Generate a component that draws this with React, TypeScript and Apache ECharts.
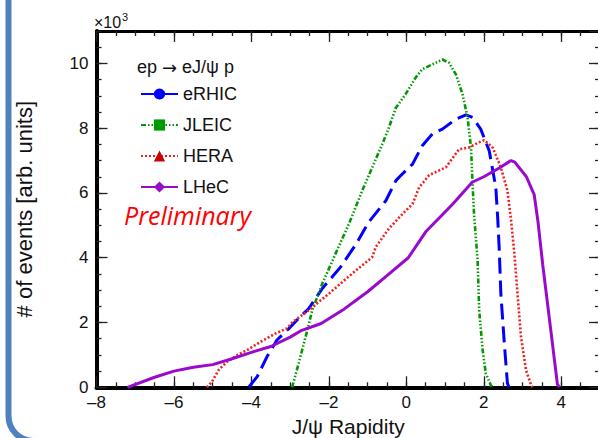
import React, { useEffect, useRef } from 'react';
import * as echarts from 'echarts';

// ---- data (y values in units of 10^3 events) ----
const seriesNames = ['eRHIC', 'JLEIC', 'HERA', 'LHeC'];

const erhicX = [-4.07, -3.85, -3.6, -3.34, -3.03, -2.73, -2.52, -2.17, -1.7, -1.31, -0.97, -0.53, -0.27, -0.15, 0.16, 0.41, 0.67, 0.93, 1.28, 1.54, 1.71, 1.92, 2.14, 2.31, 2.36, 2.4, 2.44, 2.53, 2.61, 2.65];
const erhicY = [0, 0.33, 0.94, 1.46, 1.82, 2.19, 2.43, 3.05, 3.71, 4.4, 5.1, 5.76, 6.38, 6.53, 6.89, 7.46, 7.82, 7.97, 8.28, 8.41, 8.33, 7.97, 7.3, 6.17, 5.2, 4.22, 2.89, 1.35, 0.12, 0];

const jleicX = [-2.95, -2.78, -2.6, -2.43, -2.17, -1.83, -1.48, -1.14, -0.88, -0.62, -0.45, -0.27, -0.02, 0.24, 0.41, 0.76, 0.93, 1.1, 1.28, 1.45, 1.58, 1.67, 1.71, 1.75, 1.84, 1.88, 1.97, 2.05, 2.18, 2.22];
const jleicY = [0, 0.74, 1.56, 2.38, 3.2, 4.12, 5.05, 6.07, 6.79, 7.51, 8.02, 8.63, 9.05, 9.56, 9.82, 10.02, 10.12, 10.02, 9.66, 9.05, 8.33, 7.4, 6.28, 5.3, 3.92, 2.38, 1.15, 0.43, 0.07, 0];

const heraX = [-5.15, -5.02, -4.85, -4.63, -4.37, -4.11, -3.77, -3.38, -3.08, -2.95, -2.52, -2.0, -1.4, -0.88, -0.79, -0.45, -0.1, 0.16, 0.33, 0.59, 1.02, 1.36, 1.62, 1.85, 2.01, 2.23, 2.44, 2.61, 2.7, 2.79, 2.87, 2.96, 3.09, 3.22, 3.26];
const heraY = [0, 0.17, 0.53, 0.79, 0.99, 1.15, 1.4, 1.66, 1.82, 2.0, 2.38, 2.89, 3.51, 4.02, 4.33, 4.9, 5.35, 5.66, 6.17, 6.55, 6.79, 7.35, 7.4, 7.55, 7.63, 7.4, 6.79, 6.07, 5.2, 4.12, 2.89, 1.56, 0.53, 0.07, 0];

const lhecX = [-7.2, -6.5, -6.0, -5.5, -5.0, -4.5, -4.0, -3.5, -3.0, -2.7, -2.2, -1.6, -1.0, -0.5, 0.05, 0.5, 1.2, 1.7, 2.0, 2.4, 2.7, 2.8, 3.1, 3.3, 3.4, 3.52, 3.7, 3.9, 3.95];
const lhecY = [0, 0.31, 0.5, 0.62, 0.7, 0.88, 1.08, 1.26, 1.55, 1.76, 1.97, 2.42, 2.95, 3.45, 4.0, 4.8, 5.66, 6.33, 6.5, 6.77, 7.0, 6.95, 6.5, 5.95, 5.1, 3.8, 2.05, 0.1, 0];

const xMin = -8;
const xMax = 5;
const yMin = 0;
const yMax = 11;

const FONT = '"Liberation Sans", Arial, Helvetica, sans-serif';

const pairs = (xs: number[], ys: number[]) => xs.map((x, i) => [x, ys[i]]);

function buildOption() {
  const tickStyle = { color: '#222', width: 1.3 };
  const minorX = (position: string) => ({
    type: 'value', position, min: xMin, max: xMax, interval: 0.5,
    axisLine: { show: false, onZero: false },
    axisTick: { show: true, inside: true, length: 5, lineStyle: tickStyle },
    axisLabel: { show: false }, splitLine: { show: false },
  });
  const minorY = (position: string) => ({
    type: 'value', position, min: yMin, max: yMax, interval: 0.5,
    axisLine: { show: false, onZero: false },
    axisTick: { show: true, inside: true, length: 5, lineStyle: tickStyle },
    axisLabel: { show: false }, splitLine: { show: false },
  });

  const lineSeries = (name: string, xs: number[], ys: number[], color: string, symColor: string, symbol: string, width: number, dash: any) => ({
    type: 'line', name, data: pairs(xs, ys), xAxisIndex: 0, yAxisIndex: 0,
    showSymbol: false, symbol, smooth: false,
    lineStyle: { color, width, type: dash, cap: 'butt' },
    itemStyle: { color: symColor },
    emphasis: { disabled: true },
  });

  return {
    animation: false,
    backgroundColor: '#ffffff',
    grid: { left: 96.5, right: 10, top: 31, bottom: 50.7, containLabel: false, outerBoundsMode: 'none' },
    xAxis: [
      {
        type: 'value', position: 'bottom', min: xMin, max: xMax, interval: 2,
        axisLine: { show: true, onZero: false, lineStyle: { color: '#000', width: 4 } },
        axisTick: { show: true, inside: true, length: 11, lineStyle: tickStyle },
        axisLabel: {
          fontSize: 17, color: '#111', fontFamily: FONT, margin: 7, showMaxLabel: false,
          formatter: (v: number) => String(v).replace('-', '\u2013'),
        },
        splitLine: { show: false },
        name: 'J/\u03c8 Rapidity', nameLocation: 'middle', nameGap: 26,
        nameTextStyle: { fontSize: 21, color: '#111', fontFamily: FONT },
      },
      minorX('bottom'),
      {
        type: 'value', position: 'top', min: xMin, max: xMax, interval: 2,
        axisLine: { show: true, onZero: false, lineStyle: { color: '#000', width: 3 } },
        axisTick: { show: true, inside: true, length: 11, lineStyle: tickStyle },
        axisLabel: { show: false }, splitLine: { show: false },
      },
      minorX('top'),
    ],
    yAxis: [
      {
        type: 'value', position: 'left', min: yMin, max: yMax, interval: 2,
        axisLine: { show: true, onZero: false, lineStyle: { color: '#000', width: 4 } },
        axisTick: { show: true, inside: true, length: 11, lineStyle: tickStyle },
        axisLabel: { fontSize: 17, color: '#111', fontFamily: FONT, margin: 8, showMaxLabel: false },
        splitLine: { show: false },
        name: '# of events [arb. units]', nameLocation: 'middle', nameGap: 61,
        nameTextStyle: { fontSize: 22, color: '#111', fontFamily: FONT },
      },
      minorY('left'),
      {
        type: 'value', position: 'right', min: yMin, max: yMax, interval: 2,
        axisLine: { show: false, onZero: false },
        axisTick: { show: true, inside: true, length: 11, lineStyle: tickStyle },
        axisLabel: { show: false }, splitLine: { show: false },
      },
      minorY('right'),
    ],
    legend: {
      orient: 'vertical', left: 135, top: 80,
      itemWidth: 37, itemHeight: 14, itemGap: 13,
      textStyle: { fontSize: 18, color: '#111', fontFamily: FONT },
      data: seriesNames,
      selectedMode: false,
    },
    series: [
      lineSeries(seriesNames[0], erhicX, erhicY, '#0000ff', '#0000ff', 'circle', 3, [16, 7]),
      lineSeries(seriesNames[1], jleicX, jleicY, '#009a00', '#009a00', 'rect', 2.6, [5, 2, 1.5, 2, 1.5, 2, 1.5, 2]),
      lineSeries(seriesNames[2], heraX, heraY, '#f02020', '#c80000', 'triangle', 2.6, [2, 2]),
      lineSeries(seriesNames[3], lhecX, lhecY, '#9a0acd', '#9a0acd', 'diamond', 3, 'solid'),
    ],
    graphic: [
      {
        type: 'rect', silent: true,
        shape: { x: 8.5, y: -100, width: 1000, height: 541, r: 25 },
        style: { fill: 'none', stroke: '#4f81bd', lineWidth: 6 },
      },
      {
        type: 'text', x: 94, y: 30, silent: true,
        style: { text: '\u00d710', fontSize: 16, fontFamily: FONT, fill: '#111', verticalAlign: 'bottom' },
      },
      {
        type: 'text', x: 122, y: 22, silent: true,
        style: { text: '3', fontSize: 11, fontFamily: FONT, fill: '#111', verticalAlign: 'bottom' },
      },
      {
        type: 'text', x: 137, y: 67, silent: true,
        style: {
          text: '{a|ep }{b|\u2192}{a| eJ/\u03c8 p}',
          verticalAlign: 'middle',
          rich: {
            a: { fontSize: 18, fontFamily: FONT, fill: '#111', color: '#111' },
            b: { fontSize: 18, fontFamily: '"DejaVu Sans", sans-serif', fill: '#111', color: '#111' },
          },
        },
      },
      {
        type: 'text', x: 124, y: 215, silent: true,
        style: { text: 'Preliminary', fontSize: 25, fontStyle: 'italic', fontFamily: '"Open Sans", sans-serif', fill: '#ff0000', verticalAlign: 'middle' },
      },
    ],
  };
}

export default function App() {
  const ref = useRef<HTMLDivElement>(null);
  useEffect(() => {
    if (!ref.current) return;
    const chart = echarts.init(ref.current, null, { renderer: 'svg' });
    chart.setOption(buildOption() as any);
    return () => chart.dispose();
  }, []);
  return (
    <div style={{ position: 'fixed', left: 0, top: 0, width: 598, height: 438, overflow: 'hidden', background: '#fff' }}>
      <div ref={ref} style={{ width: 610, height: 438 }} />
    </div>
  );
}
